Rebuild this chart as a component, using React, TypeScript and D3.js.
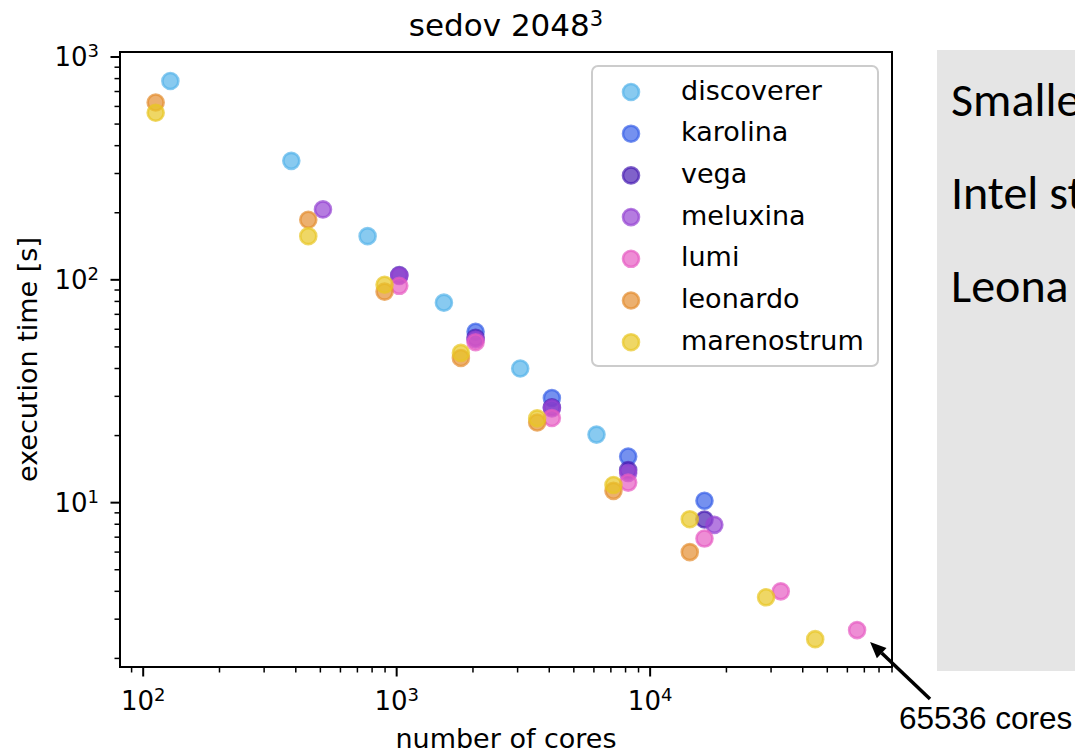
import React from 'react';
import * as d3 from 'd3';

// ---- data ----
const seriesNames = ['discoverer', 'karolina', 'vega', 'meluxina', 'lumi', 'leonardo', 'marenostrum'];
const seriesColors = ['#56B4E9', '#3B62E8', '#4A1FB4', '#9545D3', '#E75CC3', '#E48E32', '#E8C623'];

const discovererCores = [128, 384, 768, 1536, 3072, 6144];
const discovererTimes = [780, 342, 157, 79, 40, 20.2];

const karolinaCores = [2048, 4096, 8192, 16384];
const karolinaTimes = [58.5, 29.5, 16.1, 10.2];

const vegaCores = [1024, 2048, 4096, 8192, 16384];
const vegaTimes = [105, 55, 26.8, 14.0, 8.4];

const meluxinaCores = [512, 1024, 2048, 4096, 8192, 17920];
const meluxinaTimes = [207, 104, 54, 26.5, 13.6, 7.95];

const lumiCores = [1024, 2048, 4096, 8192, 16384, 32768, 65536];
const lumiTimes = [94, 52.5, 24.0, 12.3, 6.9, 4.0, 2.68];

const leonardoCores = [112, 448, 896, 1792, 3584, 7168, 14336];
const leonardoTimes = [625, 186, 88.5, 44.6, 22.9, 11.3, 6.0];

const marenostrumCores = [112, 448, 896, 1792, 3584, 7168, 14336, 28672, 44800];
const marenostrumTimes = [562, 157, 95, 47, 23.9, 12.0, 8.43, 3.76, 2.44];

const seriesCores = [discovererCores, karolinaCores, vegaCores, meluxinaCores, lumiCores, leonardoCores, marenostrumCores];
const seriesTimes = [discovererTimes, karolinaTimes, vegaTimes, meluxinaTimes, lumiTimes, leonardoTimes, marenostrumTimes];

const xDomain = [81, 90000];
const yDomain = [1.83, 1053];
const titleText = 'sedov 2048';
const titleSup = '3';
const xLabel = 'number of cores';
const yLabel = 'execution time [s]';
const annotationText = '65536 cores';
const annotationCores = 65536;
const annotationTime = 2.68;
const panelLines = ['Smalle', 'Intel st', 'Leona'];

const FONT = 'DejaVu Sans, sans-serif';

export default function App() {
  const W = 1075, H = 753;
  const L = 120, R = 892, T = 52, B = 667;
  const x = d3.scaleLog().domain(xDomain).range([L, R]);
  const y = d3.scaleLog().domain(yDomain).range([B, T]);

  const isMajor = (v: number) => Math.abs(Math.log10(v) - Math.round(Math.log10(v))) < 1e-9;
  const xt = x.ticks();
  const yt = y.ticks();
  const xMajor = xt.filter(isMajor);
  const xMinor = xt.filter(v => !isMajor(v));
  const yMajor = yt.filter(isMajor);
  const yMinor = yt.filter(v => !isMajor(v));

  const r = 8;
  const sw = 2.6;
  const op = 0.7;

  const legendX = 592, legendY = 66, legendW = 286, legendH = 300;
  const rowH = 41.7;

  // annotation arrow
  const tipX = x(annotationCores) + 13;
  const tipY = y(annotationTime) + 12;
  const tailX = 930, tailY = 699;
  const ang = Math.atan2(tipY - tailY, tipX - tailX);
  const headLen = 16, headW = 7;
  const bx = tipX - headLen * Math.cos(ang);
  const by = tipY - headLen * Math.sin(ang);
  const px = -Math.sin(ang) * headW, py = Math.cos(ang) * headW;

  return (
    <svg width={W} height={H} style={{ position: 'absolute', left: 0, top: 0, background: '#fff' }}>
      <rect x={0} y={0} width={W} height={H} fill="#fff" />
      {/* right grey panel */}
      <rect x={937} y={50} width={W - 937} height={621} fill="#e5e5e5" />
      {panelLines.map((t, i) => (
        <text key={t} x={951} y={116 + i * 93} fontFamily="Carlito, Lato, sans-serif" fontSize={48} fill="#000">{t}</text>
      ))}

      {/* title */}
      <text x={(L + R) / 2} y={36} textAnchor="middle" fontFamily={FONT} fontSize={31} fill="#000">
        {titleText}<tspan dy={-10} fontSize={21}>{titleSup}</tspan>
      </text>

      {/* points */}
      {seriesNames.map((name, si) => (
        <g key={name}>
          {seriesCores[si].map((c, i) => (
            <circle key={i} cx={x(c)} cy={y(seriesTimes[si][i])} r={r}
              fill={seriesColors[si]} fillOpacity={op}
              stroke={seriesColors[si]} strokeOpacity={op} strokeWidth={sw} />
          ))}
        </g>
      ))}

      {/* spines */}
      <rect x={L} y={T} width={R - L} height={B - T} fill="none" stroke="#000" strokeWidth={2} />

      {/* x ticks */}
      {xMajor.map(v => (
        <g key={'xM' + v}>
          <line x1={x(v)} x2={x(v)} y1={B} y2={B + 9.5} stroke="#000" strokeWidth={2} />
          <text x={x(v)} y={710} textAnchor="middle" fontFamily={FONT} fontSize={26} fill="#000">
            10<tspan dy={-9.5} fontSize={18}>{Math.round(Math.log10(v))}</tspan>
          </text>
        </g>
      ))}
      {xMinor.map(v => (
        <line key={'xm' + v} x1={x(v)} x2={x(v)} y1={B} y2={B + 5.5} stroke="#000" strokeWidth={1.5} />
      ))}

      {/* y ticks */}
      {yMajor.map(v => (
        <g key={'yM' + v}>
          <line x1={L - 9.5} x2={L} y1={y(v)} y2={y(v)} stroke="#000" strokeWidth={2} />
          <text x={99} y={y(v) + 9.5} textAnchor="end" fontFamily={FONT} fontSize={26} fill="#000">
            10<tspan dy={-9.5} fontSize={18}>{Math.round(Math.log10(v))}</tspan>
          </text>
        </g>
      ))}
      {yMinor.map(v => (
        <line key={'ym' + v} x1={L - 5.5} x2={L} y1={y(v)} y2={y(v)} stroke="#000" strokeWidth={1.5} />
      ))}

      {/* axis labels */}
      <text x={(L + R) / 2} y={748} textAnchor="middle" fontFamily={FONT} fontSize={27} fill="#000">{xLabel}</text>
      <text transform={`translate(37,${(T + B) / 2}) rotate(-90)`} textAnchor="middle" fontFamily={FONT} fontSize={27} fill="#000">{yLabel}</text>

      {/* legend */}
      <rect x={legendX} y={legendY} width={legendW} height={legendH} rx={6} ry={6}
        fill="#fff" fillOpacity={0.8} stroke="#cccccc" strokeWidth={2} />
      {seriesNames.map((name, i) => {
        const cy = legendY + 26 + i * rowH;
        return (
          <g key={'lg' + name}>
            <circle cx={631} cy={cy} r={r} fill={seriesColors[i]} fillOpacity={op}
              stroke={seriesColors[i]} strokeOpacity={op} strokeWidth={sw} />
            <text x={681} y={cy + 7.5} fontFamily={FONT} fontSize={27} fill="#000">{name}</text>
          </g>
        );
      })}

      {/* annotation */}
      <line x1={tailX} y1={tailY} x2={bx} y2={by} stroke="#000" strokeWidth={3.5} />
      <polygon points={`${tipX},${tipY} ${bx + px},${by + py} ${bx - px},${by - py}`} fill="#000" />
      <text x={899} y={729} fontFamily="Liberation Sans, Arial, sans-serif" fontSize={31.5} fill="#000">{annotationText}</text>
    </svg>
  );
}
